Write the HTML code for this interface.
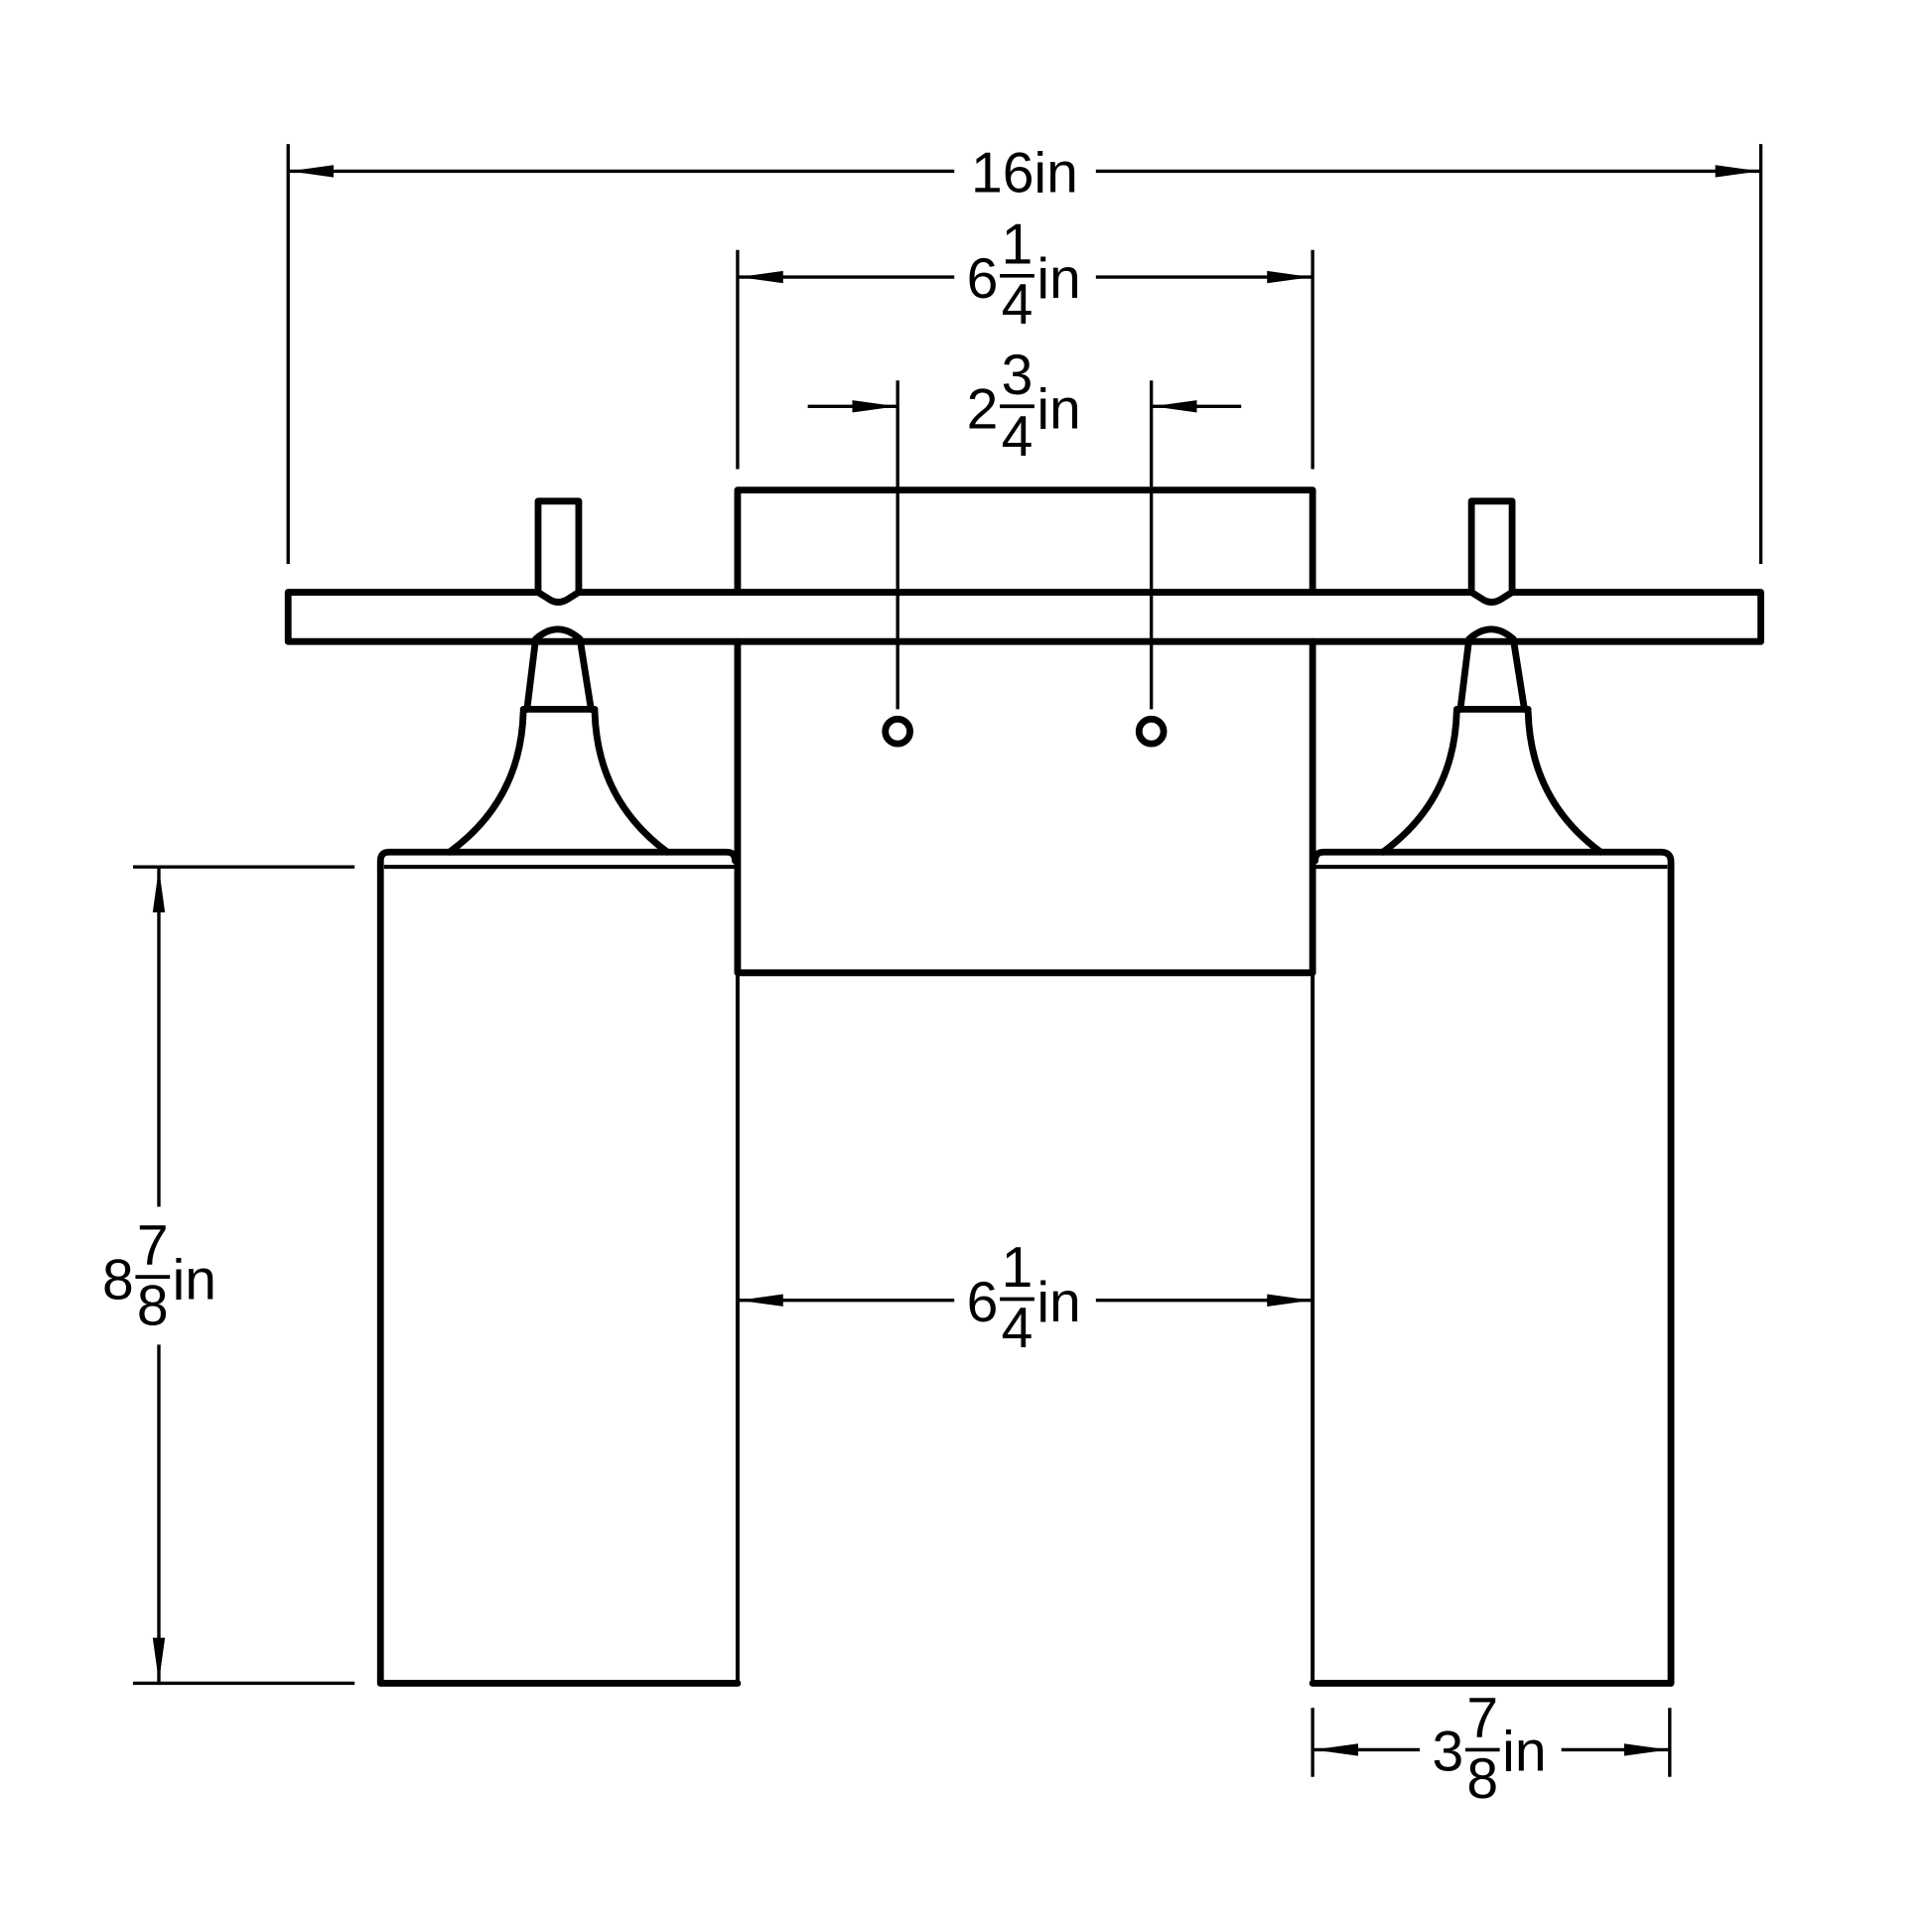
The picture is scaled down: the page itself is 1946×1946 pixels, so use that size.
<!DOCTYPE html>
<html><head><meta charset="utf-8"><style>
html,body{margin:0;padding:0;background:#fff;}
svg{display:block;}
text{font-family:"Liberation Sans",Arial,sans-serif;fill:#000;}
</style></head><body>
<svg width="1946" height="1946" viewBox="0 0 1569 1569" xmlns="http://www.w3.org/2000/svg">
<defs>
<marker id="a" viewBox="0 0 36 12" refX="36" refY="6" markerWidth="36" markerHeight="12" markerUnits="userSpaceOnUse" orient="auto">
<path d="M0,1 L36,6 L0,11 Z" fill="#000"/>
</marker>
</defs>
<g fill="none" stroke="#000" stroke-width="2.7">
<line x1="234" y1="117" x2="234" y2="458"/>
<line x1="1430" y1="117" x2="1430" y2="458"/>
<line x1="775" y1="139" x2="235" y2="139" marker-end="url(#a)"/>
<line x1="890" y1="139" x2="1429" y2="139" marker-end="url(#a)"/>
<line x1="599" y1="203" x2="599" y2="381"/>
<line x1="1066" y1="203" x2="1066" y2="381"/>
<line x1="775" y1="225" x2="600" y2="225" marker-end="url(#a)"/>
<line x1="890" y1="225" x2="1065" y2="225" marker-end="url(#a)"/>
<line x1="729" y1="309" x2="729" y2="576"/>
<line x1="935" y1="309" x2="935" y2="576"/>
<line x1="656" y1="330" x2="728" y2="330" marker-end="url(#a)"/>
<line x1="1008" y1="330" x2="936" y2="330" marker-end="url(#a)"/>
<line x1="775" y1="1056" x2="600" y2="1056" marker-end="url(#a)"/>
<line x1="890" y1="1056" x2="1065" y2="1056" marker-end="url(#a)"/>
<line x1="108" y1="704" x2="288" y2="704"/>
<line x1="108" y1="1367" x2="288" y2="1367"/>
<line x1="129" y1="980" x2="129" y2="705" marker-end="url(#a)"/>
<line x1="129" y1="1092" x2="129" y2="1366" marker-end="url(#a)"/>
<line x1="1066" y1="1387" x2="1066" y2="1443"/>
<line x1="1356" y1="1387" x2="1356" y2="1443"/>
<line x1="1153" y1="1421" x2="1067" y2="1421" marker-end="url(#a)"/>
<line x1="1268" y1="1421" x2="1355" y2="1421" marker-end="url(#a)"/>
</g>
<g fill="none" stroke="#000" stroke-width="5.5" stroke-linejoin="round" stroke-linecap="round">
<path d="M599,481 L599,398 L1066,398 L1066,481"/>
<path d="M599,521 L599,790 L1066,790 L1066,521"/>
<rect x="234" y="481" width="1196" height="40"/>
<path d="M437,481 L437,407 L470,407 L470,481 L462,486 Q453,492 445,486 Z" fill="#fff"/>
<path d="M1195,481 L1195,407 L1228,407 L1228,481 L1220,486 Q1211,492 1203,486 Z" fill="#fff"/>
<path d="M428,576 L435,519 Q453,503 471,519 L480,576"/>
<line x1="425" y1="576" x2="483" y2="576"/>
<path d="M425,578 Q423,650 365,692"/>
<path d="M483,578 Q485,650 542,692"/>
<path d="M1186,576 L1193,519 Q1211,503 1229,519 L1238,576"/>
<line x1="1183" y1="576" x2="1241" y2="576"/>
<path d="M1183,578 Q1181,650 1123,692"/>
<path d="M1241,578 Q1243,650 1300,692"/>
<path d="M309,704 L309,699 Q309,692 316,692 L590,692 Q597,692 597,699"/>
<path d="M1068,699 Q1068,692 1075,692 L1349,692 Q1357,692 1357,700 L1357,704"/>
<path d="M309,704 L309,1367 L599,1367"/>
<path d="M1066,1367 L1357,1367 L1357,704"/>
<circle cx="729" cy="594" r="10"/>
<circle cx="935" cy="594" r="10"/>
</g>
<g fill="none" stroke="#000" stroke-width="3.2">
<line x1="312" y1="704" x2="597" y2="704"/>
<line x1="1068" y1="704" x2="1354" y2="704"/>
<line x1="599" y1="790" x2="599" y2="1367"/>
<line x1="1066" y1="790" x2="1066" y2="1367"/>
</g>
<g font-size="46">
<text x="832" y="156" text-anchor="middle">16in</text>
<text x="785" y="242">6</text><text x="826" y="214" text-anchor="middle">1</text><text x="826" y="263" text-anchor="middle">4</text><text x="842" y="242">in</text>
<line x1="812" y1="224" x2="840" y2="224" stroke="#000" stroke-width="3"/>
<text x="785" y="348">2</text><text x="826" y="320" text-anchor="middle">3</text><text x="826" y="370" text-anchor="middle">4</text><text x="842" y="348">in</text>
<line x1="812" y1="330" x2="840" y2="330" stroke="#000" stroke-width="3"/>
<text x="785" y="1073">6</text><text x="826" y="1045" text-anchor="middle">1</text><text x="826" y="1094" text-anchor="middle">4</text><text x="842" y="1073">in</text>
<line x1="812" y1="1055" x2="840" y2="1055" stroke="#000" stroke-width="3"/>
<text x="83" y="1055">8</text><text x="124" y="1027" text-anchor="middle">7</text><text x="124" y="1076" text-anchor="middle">8</text><text x="140" y="1055">in</text>
<line x1="110" y1="1037" x2="138" y2="1037" stroke="#000" stroke-width="3"/>
<text x="1163" y="1438">3</text><text x="1204" y="1411" text-anchor="middle">7</text><text x="1204" y="1460" text-anchor="middle">8</text><text x="1220" y="1438">in</text>
<line x1="1190" y1="1421" x2="1218" y2="1421" stroke="#000" stroke-width="3"/>
</g>
</svg>
</body></html>
